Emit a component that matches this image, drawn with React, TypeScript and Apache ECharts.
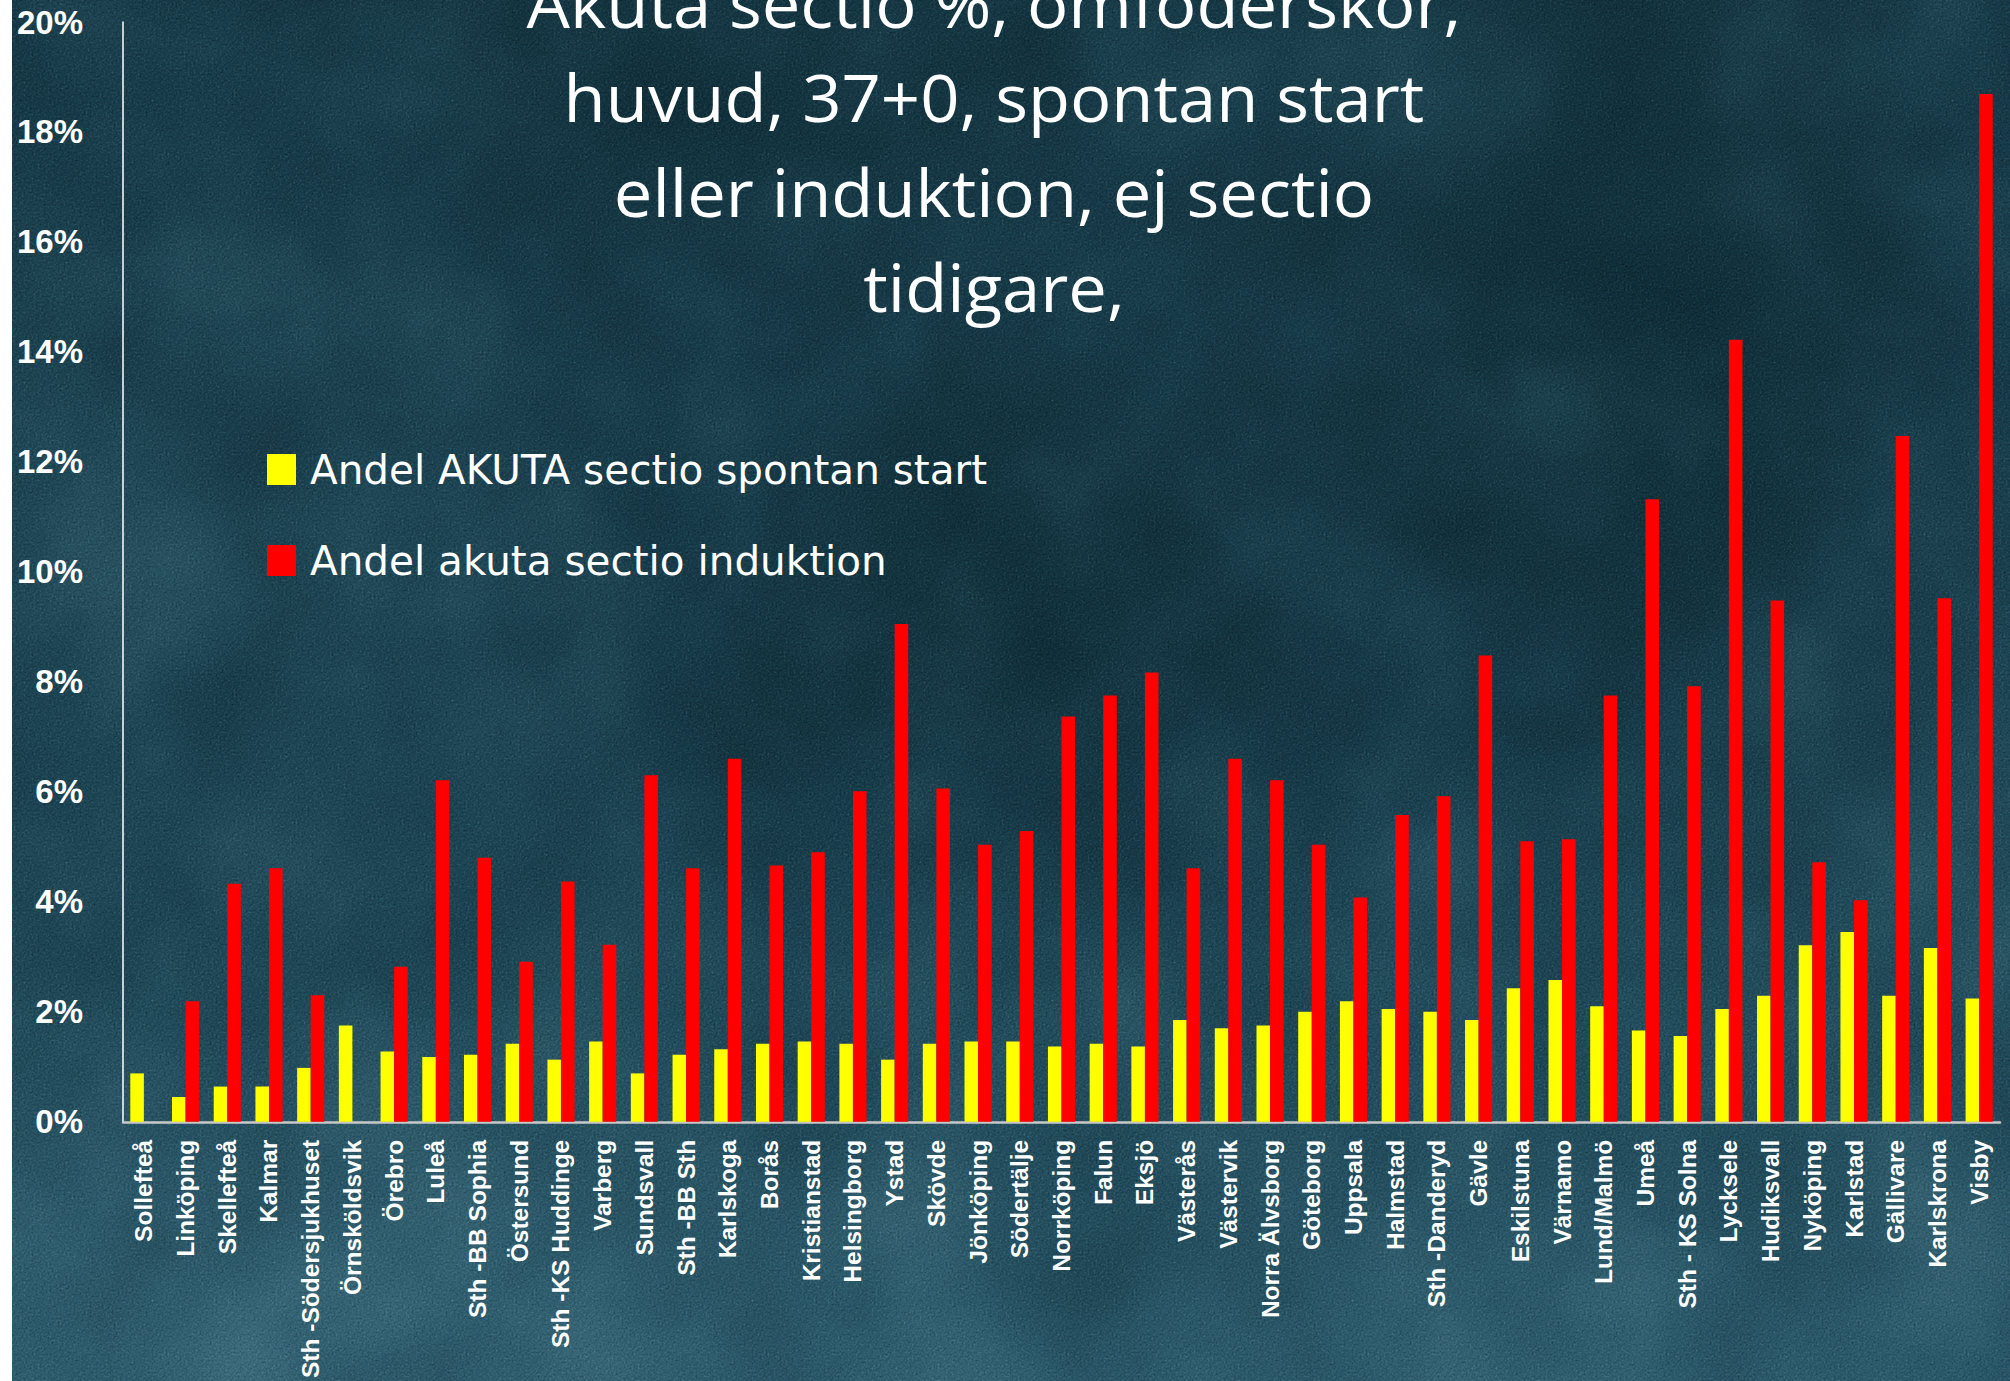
import React, { useEffect, useRef } from "react";
import * as echarts from "echarts";

const categories = [
  "Sollefteå", "Linköping", "Skellefteå", "Kalmar", "Sth -Södersjukhuset", "Örnsköldsvik",
  "Örebro", "Luleå", "Sth -BB Sophia", "Östersund", "Sth -KS Huddinge", "Varberg",
  "Sundsvall", "Sth -BB Sth", "Karlskoga", "Borås", "Kristianstad", "Helsingborg",
  "Ystad", "Skövde", "Jönköping", "Södertälje", "Norrköping", "Falun", "Eksjö",
  "Västerås", "Västervik", "Norra Älvsborg", "Göteborg", "Uppsala", "Halmstad",
  "Sth -Danderyd", "Gävle", "Eskilstuna", "Värnamo", "Lund/Malmö", "Umeå",
  "Sth - KS Solna", "Lycksele", "Hudiksvall", "Nyköping", "Karlstad", "Gällivare",
  "Karlskrona", "Visby",
];

const spontanStart = [
  0.88, 0.45, 0.64, 0.64, 0.98, 1.75, 1.28, 1.18, 1.22, 1.42, 1.13, 1.46,
  0.88, 1.22, 1.32, 1.42, 1.46, 1.42, 1.13, 1.42, 1.46, 1.46, 1.37, 1.42,
  1.37, 1.85, 1.70, 1.75, 2.0, 2.19, 2.05, 2.0, 1.85, 2.43, 2.58, 2.10,
  1.66, 1.56, 2.05, 2.29, 3.21, 3.45, 2.29, 3.16, 2.24,
];

const induktion = [
  null, 2.19, 4.33, 4.61, 2.30, null, 2.82, 6.21, 4.80, 2.91, 4.37, 3.22,
  6.30, 4.61, 6.6, 4.66, 4.90, 6.01, 9.05, 6.06, 5.04, 5.29, 7.37, 7.75,
  8.17, 4.61, 6.6, 6.21, 5.04, 4.08, 5.58, 5.92, 8.48, 5.10, 5.14, 7.75,
  11.32, 7.92, 14.22, 9.48, 4.72, 4.03, 12.47, 9.52, 18.69,
];

const seriesNames = ["Andel AKUTA sectio spontan start", "Andel akuta sectio induktion"];

const titleLines = [
  "Akuta sectio %, omföderskor,",
  "huvud, 37+0, spontan start",
  "eller induktion, ej sectio",
  "tidigare,",
];

const yMin = 0;
const yMax = 20;
const yInterval = 2;

const fineNoise =
  "data:image/svg+xml;utf8," +
  encodeURIComponent(
    "<svg xmlns='http://www.w3.org/2000/svg' width='300' height='300'><filter id='n' color-interpolation-filters='sRGB'><feTurbulence type='fractalNoise' baseFrequency='0.5' numOctaves='3' stitchTiles='stitch'/><feColorMatrix type='matrix' values='0.33 0.33 0.33 0 0  0.33 0.33 0.33 0 0  0.33 0.33 0.33 0 0  0 0 0 0 1'/></filter><rect width='300' height='300' filter='url(#n)' opacity='0.85'/></svg>"
  );

const coarseNoise =
  "data:image/svg+xml;utf8," +
  encodeURIComponent(
    "<svg xmlns='http://www.w3.org/2000/svg' width='1998' height='1381'><filter id='m' color-interpolation-filters='sRGB'><feTurbulence type='fractalNoise' baseFrequency='0.006' numOctaves='4' seed='7'/><feColorMatrix type='matrix' values='0.33 0.33 0.33 0 0  0.33 0.33 0.33 0 0  0.33 0.33 0.33 0 0  0 0 0 0 1'/></filter><rect width='1998' height='1381' filter='url(#m)' opacity='0.45'/></svg>"
  );

export default function App() {
  const ref = useRef<HTMLDivElement>(null);

  useEffect(() => {
    document.body.style.margin = "0";
    if (!ref.current) return;
    const chart = echarts.init(ref.current, null, { renderer: "svg" });

    const titleFontSize = 65;
    const titleFamily = "'Open Sans'";
    let scaleX = 1;
    try {
      const ctx = document.createElement("canvas").getContext("2d");
      if (ctx) {
        ctx.font = `${titleFontSize}px ${titleFamily}`;
        const w = ctx.measureText(titleLines[1]).width;
        if (w > 0) scaleX = 861 / w;
      }
    } catch (e) {
      /* ignore */
    }

    const baselines = [28, 122, 217, 312];
    const titleElements = titleLines.map((line, i) => ({
      type: "text",
      x: 994,
      y: baselines[i] - 25,
      scaleX,
      silent: true,
      style: {
        text: line,
        fill: "#ffffff",
        font: `${titleFontSize}px ${titleFamily}`,
        textAlign: "center",
        textVerticalAlign: "middle",
      },
    }));

    chart.setOption({
      animation: false,
      backgroundColor: "transparent",
      grid: { left: 123, right: 10, top: 22, bottom: 259, containLabel: false },
      legend: {
        orient: "vertical",
        left: 267,
        top: 449,
        padding: 0,
        itemGap: 50,
        itemWidth: 29,
        itemHeight: 31,
        icon: "rect",
        data: seriesNames,
        textStyle: {
          color: "#ffffff",
          fontFamily: "DejaVu Sans",
          fontSize: 40.5,
          lineHeight: 40,
          padding: [0, 0, 0, 9],
        },
      },
      xAxis: {
        type: "category",
        data: categories,
        axisLine: { show: true, lineStyle: { color: "#c9c9c9", width: 2.5 } },
        axisTick: { show: false },
        axisLabel: {
          interval: 0,
          rotate: 90,
          margin: 18,
          color: "#ffffff",
          fontFamily: "Liberation Sans",
          fontWeight: "bold",
          fontSize: 24.5,
        },
      },
      yAxis: {
        type: "value",
        min: yMin,
        max: yMax,
        interval: yInterval,
        splitLine: { show: false },
        axisLine: { show: true, lineStyle: { color: "#ffffff", width: 1.5 } },
        axisTick: { show: false },
        axisLabel: {
          formatter: "{value}%",
          margin: 40,
          color: "#ffffff",
          fontFamily: "Liberation Sans",
          fontWeight: "bold",
          fontSize: 33,
        },
      },
      series: [
        {
          name: seriesNames[0],
          type: "bar",
          data: spontanStart,
          barGap: "0%",
          barCategoryGap: "35%",
          itemStyle: { color: "#ffff00" },
        },
        {
          name: seriesNames[1],
          type: "bar",
          data: induktion,
          barGap: "0%",
          barCategoryGap: "35%",
          itemStyle: { color: "#ff0000" },
        },
      ],
      graphic: titleElements,
    });

    return () => chart.dispose();
  }, []);

  const layers = [
    `url("${fineNoise}")`,
    `url("${coarseNoise}")`,
    "radial-gradient(ellipse 560px 380px at 1000px 620px, rgba(4,26,34,0.45), rgba(4,26,34,0) 100%)",
    "radial-gradient(ellipse 420px 560px at 1640px 380px, rgba(4,26,34,0.45), rgba(4,26,34,0) 100%)",
    "radial-gradient(ellipse 520px 300px at 700px 110px, rgba(4,26,34,0.25), rgba(4,26,34,0) 100%)",
    "radial-gradient(ellipse 760px 320px at 320px 1340px, rgba(66,116,132,0.45), rgba(66,116,132,0) 100%)",
    "radial-gradient(ellipse 700px 240px at 1450px 1370px, rgba(58,106,122,0.35), rgba(58,106,122,0) 100%)",
    "radial-gradient(ellipse 440px 420px at 220px 480px, rgba(48,96,112,0.3), rgba(48,96,112,0) 100%)",
    "radial-gradient(ellipse 300px 500px at 1900px 850px, rgba(48,94,108,0.25), rgba(48,94,108,0) 100%)",
    "linear-gradient(180deg, #173a47 0%, #1c4352 55%, #285667 100%)",
  ];

  return (
    <div style={{ position: "relative", width: 2010, height: 1381, background: "#ffffff", overflow: "hidden" }}>
      <div
        style={{
          position: "absolute",
          left: 12,
          top: 0,
          width: 1998,
          height: 1381,
          backgroundImage: layers.join(", "),
          backgroundRepeat: "repeat, no-repeat, no-repeat, no-repeat, no-repeat, no-repeat, no-repeat, no-repeat, no-repeat, no-repeat",
          backgroundBlendMode: "soft-light, soft-light, normal, normal, normal, normal, normal, normal, normal, normal",
        }}
      />
      <div ref={ref} style={{ position: "absolute", left: 0, top: 0, width: 2010, height: 1381 }} />
    </div>
  );
}
